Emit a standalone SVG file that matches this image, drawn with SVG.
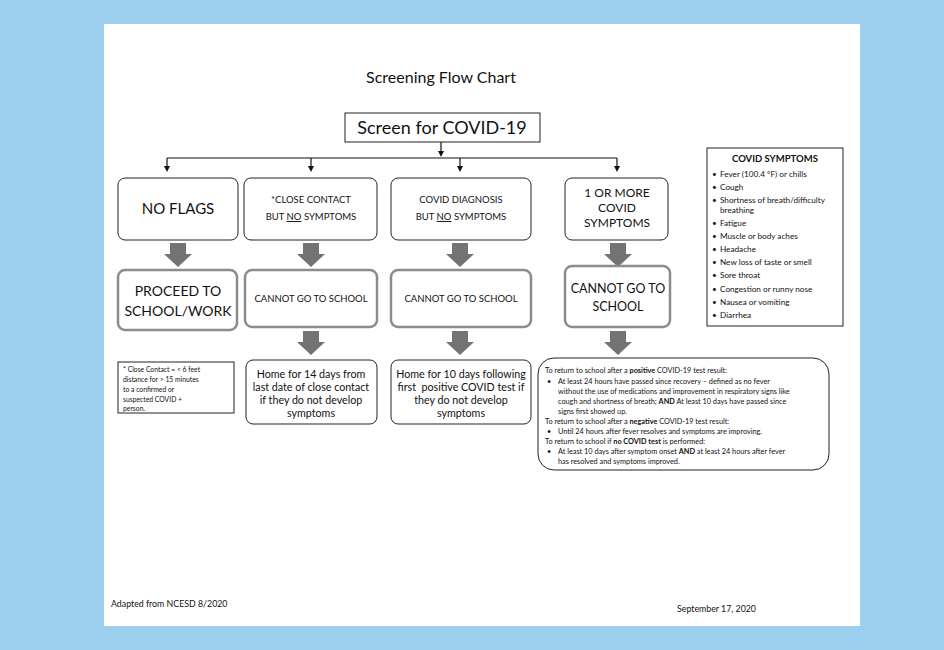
<svg xmlns="http://www.w3.org/2000/svg" width="944" height="650" viewBox="0 0 944 650">
<defs>
<style>
text{font-family:Lato,"Open Sans","Liberation Sans",sans-serif;fill:#111}
.box{fill:#fff;stroke:#222;stroke-width:1}
.gbox{fill:#fff;stroke:#8c8c8c;stroke-width:2.5}
.ln{fill:none;stroke:#111;stroke-width:1.2}
.blk{fill:#737373}
.c{text-anchor:middle}
.sym{font-size:8.2px}
.ret{font-size:7.3px}
</style>
<path id="barrow" d="M-8,0 H8 V11 H14 L0,24 L-14,11 H-8 Z"/>
<path id="tip" d="M-3,0 L3,0 L0,6 z"/>
</defs>
<rect x="0" y="0" width="944" height="650" fill="#9dcfee"/>
<rect x="104" y="24" width="756" height="602" fill="#fff"/>

<text x="441" y="83" class="c" font-size="16">Screening Flow Chart</text>

<g id="connectors">
<path class="ln" d="M441,142 V151"/>
<use href="#tip" x="441" y="151" fill="#111"/>
<path class="ln" d="M167,158 H617"/>
<path class="ln" d="M167,158 V166"/>
<use href="#tip" x="167" y="166" fill="#111"/>
<path class="ln" d="M311,158 V166"/>
<use href="#tip" x="311" y="166" fill="#111"/>
<path class="ln" d="M460,158 V166"/>
<use href="#tip" x="460" y="166" fill="#111"/>
<path class="ln" d="M617,158 V166"/>
<use href="#tip" x="617" y="166" fill="#111"/>
<use href="#barrow" class="blk" x="178" y="243"/>
<use href="#barrow" class="blk" x="311" y="243"/>
<use href="#barrow" class="blk" x="460" y="243"/>
<use href="#barrow" class="blk" x="618" y="243"/>
<use href="#barrow" class="blk" x="311" y="331"/>
<use href="#barrow" class="blk" x="460" y="331"/>
<use href="#barrow" class="blk" x="618" y="331"/>
</g>

<g id="screen">
<rect class="box" x="345" y="113" width="195" height="29"/>
<text x="442" y="134" class="c" font-size="18">Screen for COVID-19</text>
</g>

<g id="noflags">
<rect class="box" x="118" y="178" width="120" height="62" rx="7"/>
<text x="178" y="214" class="c" font-size="15">NO FLAGS</text>
</g>
<g id="closecontact">
<rect class="box" x="244" y="178" width="133" height="62" rx="7"/>
<text x="311" y="203" class="c" font-size="9.5">*CLOSE CONTACT</text>
<text x="311" y="220" class="c" font-size="9.5">BUT <tspan text-decoration="underline">NO</tspan> SYMPTOMS</text>
</g>
<g id="diagnosis">
<rect class="box" x="391" y="178" width="140" height="62" rx="7"/>
<text x="461" y="203" class="c" font-size="9.5">COVID DIAGNOSIS</text>
<text x="461" y="220" class="c" font-size="9.5">BUT <tspan text-decoration="underline">NO</tspan> SYMPTOMS</text>
</g>
<g id="symptomatic">
<rect class="box" x="565" y="178" width="103" height="62" rx="7"/>
<text x="617" y="197" class="c" font-size="12">1 OR MORE</text>
<text x="617" y="212" class="c" font-size="12">COVID</text>
<text x="617" y="227" class="c" font-size="12">SYMPTOMS</text>
</g>

<g id="proceed">
<rect class="gbox" x="118" y="270" width="119" height="60" rx="7"/>
<text x="178" y="296" class="c" font-size="14">PROCEED TO</text>
<text x="178" y="316" class="c" font-size="14">SCHOOL/WORK</text>
</g>
<g id="cannot1">
<rect class="gbox" x="245" y="270" width="132" height="57" rx="7"/>
<text x="311" y="302" class="c" font-size="9.5">CANNOT GO TO SCHOOL</text>
</g>
<g id="cannot2">
<rect class="gbox" x="391" y="270" width="140" height="57" rx="7"/>
<text x="461" y="302" class="c" font-size="9.5">CANNOT GO TO SCHOOL</text>
</g>
<g id="cannot3">
<rect class="gbox" x="565" y="266" width="105" height="61" rx="7"/>
<text x="618" y="293" class="c" font-size="12.5">CANNOT GO TO</text>
<text x="618" y="311" class="c" font-size="12.5">SCHOOL</text>
</g>

<g id="note">
<rect class="box" x="118" y="362" width="116" height="51"/>
<text font-size="6.8"><tspan x="123" y="372">* Close Contact = &lt; 6 feet</tspan><tspan x="123" y="382">distance for &gt; 15 minutes</tspan><tspan x="123" y="392">to a confirmed or</tspan><tspan x="123" y="402">suspected COVID +</tspan><tspan x="123" y="411">person.</tspan></text>
</g>
<g id="home14">
<rect class="box" x="246" y="360" width="131" height="64" rx="7"/>
<text font-size="10.7" class="c"><tspan x="311" y="378">Home for 14 days from</tspan><tspan x="311" y="391">last date of close contact</tspan><tspan x="311" y="404">if they do not develop</tspan><tspan x="311" y="417">symptoms</tspan></text>
</g>
<g id="home10">
<rect class="box" x="391" y="360" width="140" height="64" rx="7"/>
<text font-size="10.7" class="c" xml:space="preserve"><tspan x="461" y="378">Home for 10 days following</tspan><tspan x="461" y="391">first  positive COVID test if</tspan><tspan x="461" y="404">they do not develop</tspan><tspan x="461" y="417">symptoms</tspan></text>
</g>

<g id="return">
<rect class="box" x="538" y="358" width="291" height="112" rx="16"/>
<text class="ret">
<tspan x="545" y="373">To return to school after a <tspan font-weight="bold">positive</tspan> COVID-19 test result:</tspan>
<tspan x="547" y="384">•</tspan><tspan x="558" y="384">At least 24 hours have passed since recovery – defined as no fever</tspan>
<tspan x="558" y="394">without the use of medications and improvement in respiratory signs like</tspan>
<tspan x="558" y="404">cough and shortness of breath; <tspan font-weight="bold">AND</tspan> At least 10 days have passed since</tspan>
<tspan x="558" y="414">signs first showed up.</tspan>
<tspan x="545" y="424">To return to school after a <tspan font-weight="bold">negative</tspan> COVID-19 test result:</tspan>
<tspan x="547" y="434">•</tspan><tspan x="558" y="434">Until 24 hours after fever resolves and symptoms are improving.</tspan>
<tspan x="545" y="444">To return to school if <tspan font-weight="bold">no COVID test</tspan> is performed:</tspan>
<tspan x="547" y="454">•</tspan><tspan x="558" y="454">At least 10 days after symptom onset <tspan font-weight="bold">AND</tspan> at least 24 hours after fever</tspan>
<tspan x="558" y="464">has resolved and symptoms improved.</tspan>
</text>
</g>

<g id="symptoms">
<rect class="box" x="707" y="148" width="136" height="178"/>
<text x="775" y="162" class="c" font-size="9.5" font-weight="bold">COVID SYMPTOMS</text>
<text class="sym">
<tspan x="712" y="177">•</tspan><tspan x="720" y="177">Fever (100.4 °F) or chills</tspan>
<tspan x="712" y="190">•</tspan><tspan x="720" y="190">Cough</tspan>
<tspan x="712" y="203">•</tspan><tspan x="720" y="203">Shortness of breath/difficulty</tspan>
<tspan x="720" y="213">breathing</tspan>
<tspan x="712" y="226">•</tspan><tspan x="720" y="226">Fatigue</tspan>
<tspan x="712" y="239">•</tspan><tspan x="720" y="239">Muscle or body aches</tspan>
<tspan x="712" y="252">•</tspan><tspan x="720" y="252">Headache</tspan>
<tspan x="712" y="265">•</tspan><tspan x="720" y="265">New loss of taste or smell</tspan>
<tspan x="712" y="278">•</tspan><tspan x="720" y="278">Sore throat</tspan>
<tspan x="712" y="292">•</tspan><tspan x="720" y="292">Congestion or runny nose</tspan>
<tspan x="712" y="305">•</tspan><tspan x="720" y="305">Nausea or vomiting</tspan>
<tspan x="712" y="318">•</tspan><tspan x="720" y="318">Diarrhea</tspan>
</text>
</g>

<text x="111" y="607" font-size="8.8">Adapted from NCESD 8/2020</text>
<text x="677" y="612" font-size="8.8">September 17, 2020</text>
</svg>
